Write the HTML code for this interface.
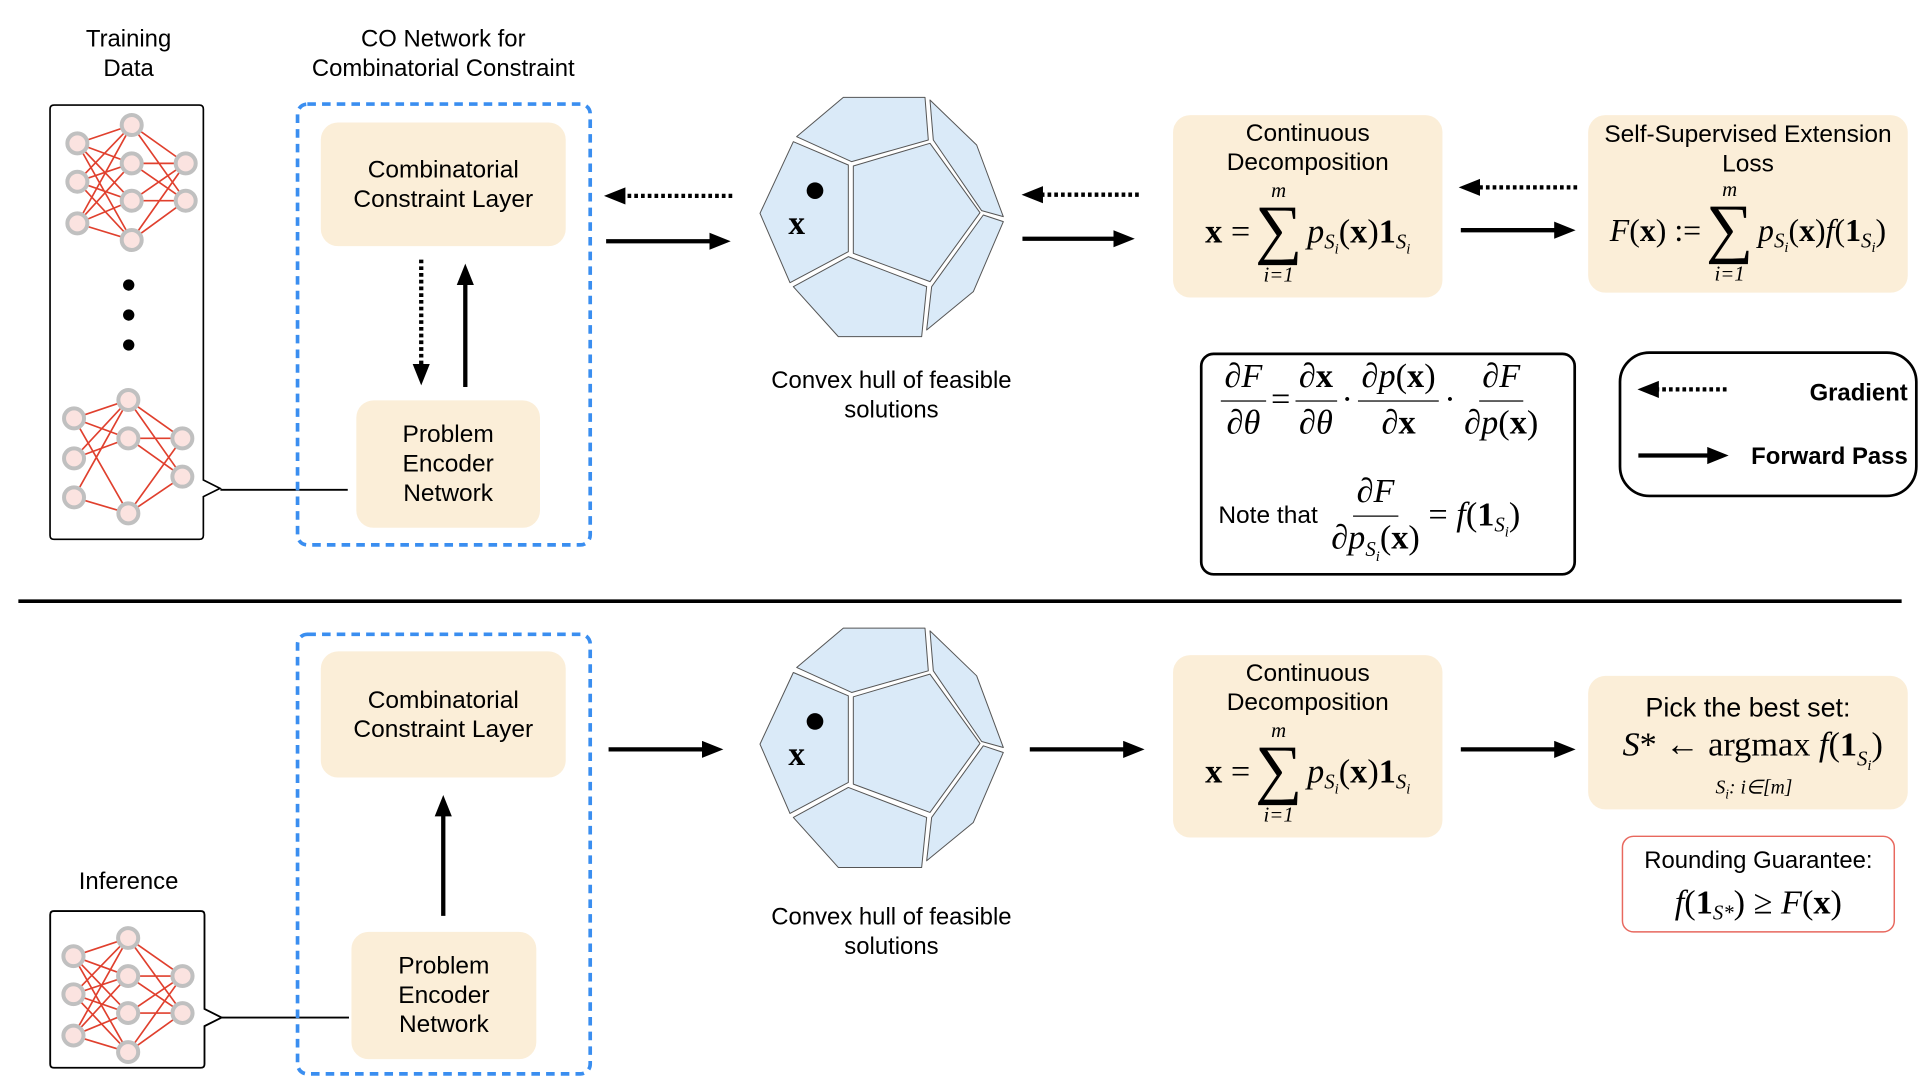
<!DOCTYPE html>
<html><head><meta charset="utf-8"><style>
html,body{margin:0;padding:0;background:#fff;width:1920px;height:1080px;overflow:hidden}
#c{position:absolute;left:0;top:0;width:1568px;height:882px;transform:scale(1.22449);transform-origin:0 0;font-family:"Liberation Sans",sans-serif;color:#000}
.a{position:absolute}
.t{position:absolute;text-align:center;font-size:19.5px;line-height:24px}
.box{position:absolute;background:#fbeed8;border-radius:14px;display:flex;align-items:center;justify-content:center;text-align:center;font-size:20px;line-height:24px}
.m{font-family:"Liberation Serif",serif;font-size:28px;white-space:nowrap;display:inline-flex;align-items:center}
.i{font-style:italic}
.b{font-weight:bold}
.sum{display:inline-flex;flex-direction:column;align-items:center;line-height:1;margin:0 4px}
.sum .s{font-size:54px;line-height:46px}
.sum .l{font-size:17px;font-style:italic}
.sum .l:last-child{margin-top:6px}
.fr{display:inline-flex;flex-direction:column;align-items:center;margin:0 4px;line-height:1.1}
.fr>span:first-child{border-bottom:1.6px solid #000;padding:0 3px 3px}
.fr>span:last-child{padding:3px 3px 0}
.sb{display:inline-block;font-size:17px;position:relative;top:8px;font-style:italic}
.sb i{font-size:12px;position:relative;top:4px}
</style></head><body><div id="c">

<svg class="a" style="left:0;top:0" width="1568" height="882">
<defs>
<marker id="h" markerWidth="6" markerHeight="6" refX="2.5" refY="2" orient="auto" markerUnits="strokeWidth"><path d="M0,0 L5,2 L0,4z" fill="#000"/></marker>
<g id="poly" stroke="#555" stroke-width="3" fill="#daeaf8" stroke-linejoin="round">
<polygon points="140,140 280,22 525,22 535,150 305,215"/>
<polygon points="130,155 295,225 295,485 120,578 30,370"/>
<polygon points="310,228 540,160 690,368 540,575 310,490"/>
<polygon points="540,30 680,165 760,380 695,362 550,150"/>
<polygon points="700,375 760,395 670,605 530,720 545,590"/>
<polygon points="130,590 295,500 530,590 515,740 265,740"/>
<circle cx="195" cy="302" r="25" fill="#000" stroke="none"/>
<text x="140" y="432" font-family="Liberation Serif,serif" font-weight="bold" font-size="100" text-anchor="middle" fill="#000" stroke="none">x</text>
</g>
<g id="net1" stroke="#e0402e" stroke-width="5">
<g>
<path d="M112,130L275,75M112,130L275,190M112,130L275,302M112,130L275,420M112,245L275,75M112,245L275,190M112,245L275,302M112,245L275,420M112,370L275,75M112,370L275,190M112,370L275,302M112,370L275,420M275,75L437,190M275,75L437,302M275,190L437,190M275,190L437,302M275,302L437,190M275,302L437,302M275,420L437,190M275,420L437,302"/>
</g>
<g fill="#fbe3e0" stroke="#c0c0c0" stroke-width="12">
<circle cx="112" cy="130" r="30"/><circle cx="112" cy="245" r="30"/><circle cx="112" cy="370" r="30"/>
<circle cx="275" cy="75" r="30"/><circle cx="275" cy="190" r="30"/><circle cx="275" cy="302" r="30"/><circle cx="275" cy="420" r="30"/>
<circle cx="437" cy="190" r="30"/><circle cx="437" cy="302" r="30"/>
</g></g>
</defs>

<g transform="translate(32.7,81.7) scale(0.2722)">
<path d="M42,15 H478 Q490,15 490,27 V1140 L540,1165 L490,1190 V1306 Q490,1318 478,1318 H42 Q30,1318 30,1306 V27 Q30,15 42,15Z" fill="none" stroke="#000" stroke-width="5"/>
<use href="#net1"/>
<g stroke="#e0402e" stroke-width="5">
<path d="M102,955L265,900M102,955L265,1015M102,955L265,1240M102,1075L265,900M102,1075L265,1015M102,1192L265,900M102,1192L265,1240M265,900L427,1015M265,900L427,1130M265,1015L427,1015M265,1015L427,1130M265,1240L427,1015M265,1240L427,1130"/>
</g>
<g fill="#fbe3e0" stroke="#c0c0c0" stroke-width="12">
<circle cx="102" cy="955" r="30"/><circle cx="102" cy="1075" r="30"/><circle cx="102" cy="1192" r="30"/>
<circle cx="265" cy="900" r="30"/><circle cx="265" cy="1015" r="30"/><circle cx="265" cy="1240" r="30"/>
<circle cx="427" cy="1015" r="30"/><circle cx="427" cy="1130" r="30"/>
</g>
<circle cx="266" cy="555" r="17"/><circle cx="266" cy="645" r="17"/><circle cx="266" cy="735" r="17"/>
</g>
<line x1="180" y1="400" x2="284" y2="400" stroke="#000" stroke-width="1.5"/>

<path d="M44,744 H164 Q167,744 167,747 V824 L181,831 L167,838 V869 Q167,872 164,872 H44 Q41,872 41,869 V747 Q41,744 44,744Z" fill="none" stroke="#000" stroke-width="1.5"/>
<g transform="translate(29.3,745.8) scale(0.274,0.27)"><use href="#net1"/></g>
<line x1="181" y1="831" x2="285" y2="831" stroke="#000" stroke-width="1.5"/>

<rect x="243" y="85" width="239" height="360" rx="8" fill="none" stroke="#3a8ef0" stroke-width="3" stroke-dasharray="7 5"/>
<rect x="243" y="518" width="239" height="359" rx="8" fill="none" stroke="#3a8ef0" stroke-width="3" stroke-dasharray="7 5"/>

<g transform="translate(612.5,73.5) scale(0.2722)"><use href="#poly"/></g>
<g transform="translate(612.5,507) scale(0.2722)"><use href="#poly"/></g>

<g stroke="#000" stroke-width="3.5" fill="none">
<line x1="344" y1="212" x2="344" y2="306" stroke-dasharray="3 2.5" marker-end="url(#h)"/>
<line x1="380" y1="316" x2="380" y2="224" marker-end="url(#h)"/>
<line x1="598" y1="160" x2="502" y2="160" stroke-dasharray="3 2.5" marker-end="url(#h)"/>
<line x1="495" y1="197" x2="588" y2="197" marker-end="url(#h)"/>
<line x1="930" y1="159" x2="843" y2="159" stroke-dasharray="3 2.5" marker-end="url(#h)"/>
<line x1="835" y1="195" x2="918" y2="195" marker-end="url(#h)"/>
<line x1="1288" y1="153" x2="1200" y2="153" stroke-dasharray="3 2.5" marker-end="url(#h)"/>
<line x1="1193" y1="188" x2="1278" y2="188" marker-end="url(#h)"/>
<line x1="1410" y1="318" x2="1346" y2="318" stroke-dasharray="3 2.5" marker-end="url(#h)"/>
<line x1="1338" y1="372" x2="1403" y2="372" marker-end="url(#h)"/>
<line x1="362" y1="748" x2="362" y2="658" marker-end="url(#h)"/>
<line x1="497" y1="612" x2="582" y2="612" marker-end="url(#h)"/>
<line x1="841" y1="612" x2="926" y2="612" marker-end="url(#h)"/>
<line x1="1193" y1="612" x2="1278" y2="612" marker-end="url(#h)"/>
</g>
<line x1="15" y1="491" x2="1553" y2="491" stroke="#000" stroke-width="3"/>
<rect x="981" y="289" width="305" height="180" rx="10" fill="none" stroke="#000" stroke-width="2.2"/>
<rect x="1323" y="288" width="242" height="117" rx="24" fill="none" stroke="#000" stroke-width="2.2"/>
<rect x="1325" y="683" width="222" height="78" rx="9" fill="#fff" stroke="#e8685e" stroke-width="1.2"/>
</svg>

<div class="t" style="left:45px;top:20px;width:120px">Training<br>Data</div>
<div class="t" style="left:222px;top:20px;width:280px">CO Network for<br>Combinatorial Constraint</div>
<div class="t" style="left:45px;top:708px;width:120px">Inference</div>

<div class="box" style="left:262px;top:100px;width:200px;height:101px">Combinatorial<br>Constraint Layer</div>
<div class="box" style="left:291px;top:327px;width:150px;height:104px">Problem<br>Encoder<br>Network</div>
<div class="box" style="left:262px;top:532px;width:200px;height:103px">Combinatorial<br>Constraint Layer</div>
<div class="box" style="left:287px;top:761px;width:151px;height:104px">Problem<br>Encoder<br>Network</div>

<div class="t" style="left:598px;top:299px;width:260px">Convex hull of feasible<br>solutions</div>
<div class="t" style="left:598px;top:737px;width:260px">Convex hull of feasible<br>solutions</div>

<div class="box" style="left:958px;top:94px;width:220px;height:149px;display:block">
<div style="margin-top:3px">Continuous<br>Decomposition</div>
<div class="m" style="margin-top:2px"><span class="b">x</span>&nbsp;=<span class="sum"><span class="l">m</span><span class="s">∑</span><span class="l">i=1</span></span><span class="i">p</span><span class="sb">S<i>i</i></span>(<span class="b">x</span>)<span class="b">1</span><span class="sb">S<i>i</i></span></div>
</div>
<div class="box" style="left:958px;top:535px;width:220px;height:149px;display:block">
<div style="margin-top:3px">Continuous<br>Decomposition</div>
<div class="m" style="margin-top:2px"><span class="b">x</span>&nbsp;=<span class="sum"><span class="l">m</span><span class="s">∑</span><span class="l">i=1</span></span><span class="i">p</span><span class="sb">S<i>i</i></span>(<span class="b">x</span>)<span class="b">1</span><span class="sb">S<i>i</i></span></div>
</div>
<div class="box" style="left:1297px;top:94px;width:261px;height:145px;display:block">
<div style="margin-top:4px">Self-Supervised Extension<br>Loss</div>
<div class="m" style="margin-top:0px;font-size:26px"><span class="i">F</span>(<span class="b">x</span>)&nbsp;:=<span class="sum"><span class="l">m</span><span class="s">∑</span><span class="l">i=1</span></span><span class="i">p</span><span class="sb">S<i>i</i></span>(<span class="b">x</span>)<span class="i">f</span>(<span class="b">1</span><span class="sb">S<i>i</i></span>)</div>
</div>
<div class="box" style="left:1297px;top:552px;width:261px;height:109px;display:block">
<div style="margin-top:14px;font-size:22px">Pick the best set:</div>
<div class="m" style="position:absolute;left:28px;top:45px;display:block"><span class="i">S</span>* ← argmax <span class="i">f</span>(<span class="b">1</span><span class="sb">S<i>i</i></span>)</div>
<div class="m" style="position:absolute;left:104px;top:80px;font-size:16px;font-style:italic;display:block">S<span style="font-size:11px;position:relative;top:4px">i</span>: i∈[m]</div>
</div>

<div class="a" style="left:981px;top:289px;width:305px;height:180px">
<div class="m" style="position:absolute;left:12px;top:4px;font-size:28px"><span class="fr"><span class="i">∂F</span><span class="i">∂θ</span></span>=<span class="fr"><span><span class="i">∂</span><span class="b">x</span></span><span class="i">∂θ</span></span>·<span class="fr"><span><span class="i">∂p</span>(<span class="b">x</span>)</span><span><span class="i">∂</span><span class="b">x</span></span></span>·<span class="fr"><span class="i">∂F</span><span><span class="i">∂p</span>(<span class="b">x</span>)</span></span></div>
<div class="m" style="position:absolute;left:14px;top:98px;font-size:28px"><span style="font-family:'Liberation Sans',sans-serif;font-size:20px;margin-right:4px">Note that</span><span class="fr"><span class="i">∂F</span><span><span class="i">∂p</span><span class="sb" style="top:6px">S<i>i</i></span>(<span class="b">x</span>)</span></span>=&nbsp;<span class="i">f</span>(<span class="b">1</span><span class="sb">S<i>i</i></span>)</div>
</div>

<div class="t" style="left:1430px;top:309px;width:128px;text-align:right;font-weight:bold">Gradient</div>
<div class="t" style="left:1410px;top:361px;width:148px;text-align:right;font-weight:bold">Forward Pass</div>

<div class="t" style="left:1325px;top:691px;width:222px">Rounding Guarantee:</div>
<div class="m" style="position:absolute;left:1325px;top:722px;width:222px;justify-content:center"><span class="i">f</span>(<span class="b">1</span><span class="sb">S*</span>)&nbsp;≥&nbsp;<span class="i">F</span>(<span class="b">x</span>)</div>

</div></body></html>
